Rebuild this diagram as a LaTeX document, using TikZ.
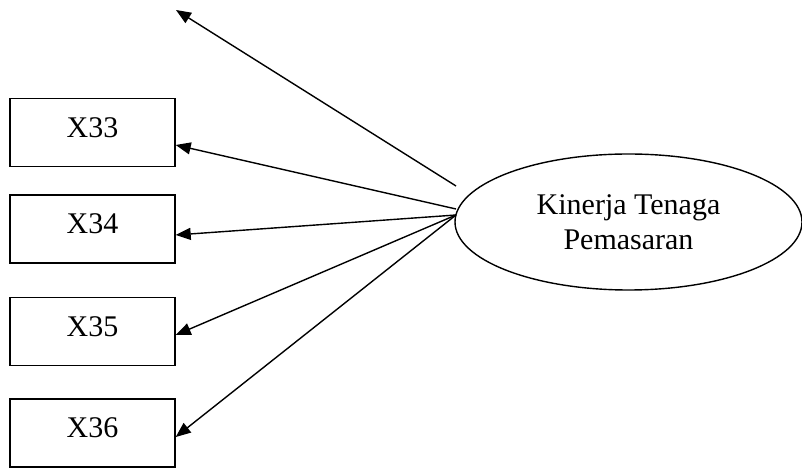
\documentclass[tikz,border=0pt]{standalone}
\usepackage{fontspec}
\setmainfont{Liberation Serif}
\usetikzlibrary{shapes.geometric,arrows.meta}
\begin{document}
\begin{tikzpicture}[x=1pt,y=1pt,
  indicator/.style={draw,line width=1.4pt,minimum width=165pt,minimum height=68pt,
    inner sep=0pt,text depth=10pt,font=\fontsize{30}{35}\selectfont},
  construct/.style={draw,ellipse,line width=1.4pt,minimum width=347pt,minimum height=136pt,
    inner sep=0pt,align=center,font=\fontsize{30}{35}\selectfont},
  loading/.style={line width=1.4pt,-{Triangle[length=15pt,width=12pt]}}]
  \useasboundingbox (0,0) rectangle (802,468);

  % indicator boxes
  \node[indicator] (x33) at (92.5,335.5) {X33};
  \node[indicator] (x34) at (92.5,239) {X34};
  \node[indicator] (x35) at (92.5,136.5) {X35};
  \node[indicator] (x36) at (92.5,35) {X36};

  % latent construct
  \node[construct] (kin) at (628.5,246) {Kinerja Tenaga\\Pemasaran};

  % line starts beside the ellipse
  \coordinate (s0) at (456,282);
  \coordinate (s1) at (456,259);
  \coordinate (s2) at (456,253);
  \coordinate (t0) at (176,458);

  % loadings
  \draw[loading] (s0) -- (t0);
  \draw[loading] (s1) -- ([yshift=-12.5pt]x33.east);
  \draw[loading] (s2) -- ([yshift=-6pt]x34.east);
  \draw[loading] (s2) -- ([yshift=-3.5pt]x35.east);
  \draw[loading] (s2) -- ([yshift=-4pt]x36.east);
\end{tikzpicture}
\end{document}
